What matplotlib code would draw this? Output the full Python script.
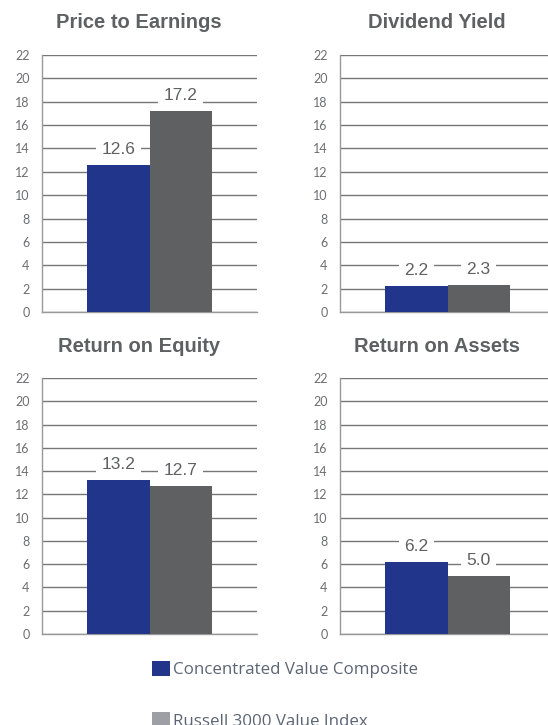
import matplotlib
matplotlib.use("Agg")
import matplotlib.pyplot as plt
from matplotlib.patches import Patch

titles = ["Price to Earnings", "Dividend Yield", "Return on Equity", "Return on Assets"]
composite = [12.6, 2.2, 13.2, 6.2]
index_vals = [17.2, 2.3, 12.7, 5.0]
series_names = ["Concentrated Value Composite", "Russell 3000 Value Index"]
yticks = list(range(0, 23, 2))

BLUE = "#21368a"
GRAY = "#5f6062"
LEG_GRAY = "#9c9fa4"
TXT = "#5f6062"
TICK = "#6d6e71"
GRID = "#767676"

fig = plt.figure(figsize=(5.48, 7.25), dpi=100)
W, H = 548, 725

panels = [(42, 312, 257), (340, 312, 257), (42, 634, 256), (340, 634, 256)]
title_pos = [(139, 23), (437, 23), (139, 347), (437, 347)]

for i, (lx, by, h) in enumerate(panels):
    ax = fig.add_axes([lx / W, (H - by) / H, 215 / W, h / H])
    x = [-0.2884, 0.2884]
    vals = [composite[i], index_vals[i]]
    ax.bar(x, vals, width=0.5768, color=[BLUE, GRAY], zorder=3, linewidth=0)
    ax.set_xlim(-1, 1)
    ax.set_ylim(0, 22)
    ax.set_yticks(yticks)
    ax.set_xticks([])
    ax.yaxis.grid(True, color=GRID, linewidth=1.0, zorder=0)
    ax.set_axisbelow(True)
    for s in ["top", "right"]:
        ax.spines[s].set_visible(False)
    for s in ["left", "bottom"]:
        ax.spines[s].set_color("#999999")
        ax.spines[s].set_linewidth(1.0)
    ax.tick_params(axis="y", length=0, pad=9, labelsize=9, labelcolor=TICK)
    for lab in ax.get_yticklabels():
        lab.set_fontfamily("Lato")
    for xi, v in zip(x, vals):
        ax.text(xi, v + 1.35, f"{v:.1f}", ha="center", va="center",
                fontsize=12.5, color=TXT, family="Liberation Sans", zorder=4,
                bbox=dict(boxstyle="square,pad=0.3", facecolor="white", edgecolor="none"))
    tx, ty = title_pos[i]
    fig.text(tx / W, 1 - ty / H, titles[i], ha="center", va="center",
             fontsize=14.5, fontweight="bold", color=TXT, family="Liberation Sans")

handles = [Patch(facecolor=BLUE, edgecolor="none"), Patch(facecolor=LEG_GRAY, edgecolor="none")]
leg = fig.legend(handles, series_names, loc="upper left",
                 bbox_to_anchor=(152 / W, 1 - 661 / H), frameon=False,
                 handlelength=1.06, handleheight=1.0,
                 handletextpad=0.15, labelspacing=2.0, borderpad=0, borderaxespad=0,
                 prop={"family": "Open Sans", "size": 12.2})
for t in leg.get_texts():
    t.set_color("#5b6574")

fig.savefig("out.png", dpi=100)
